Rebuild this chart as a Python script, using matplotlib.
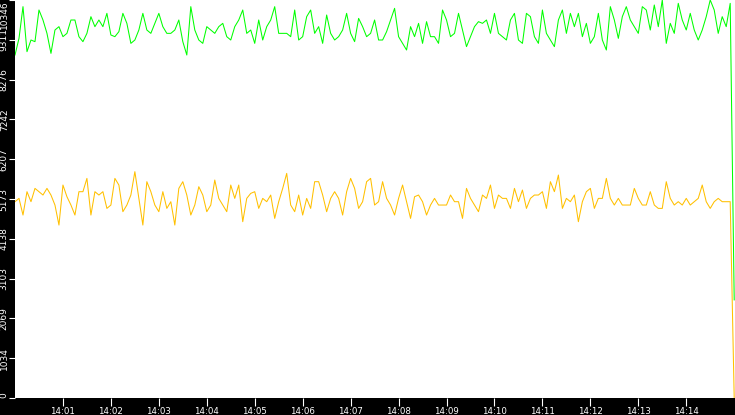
import matplotlib
matplotlib.use("Agg")
import matplotlib.pyplot as plt
import pandas as pd

# time stamps: 14:00:00 -> 14:15:00, one sample every 5 s
times = pd.date_range("2024-01-01 14:00:00", periods=181, freq="5s")

green_values = [
    8916, 9349, 10173, 9003, 9306, 9263, 10086, 9826, 9479, 8959,
    9566, 9653, 9393, 9479, 9826, 9826, 9393, 9263, 9479, 9913,
    9653, 9826, 9653, 9999, 9436, 9393, 9523, 9999, 9739, 9219,
    9306, 9566, 9999, 9566, 9479, 9739, 9999, 9653, 9479, 9479,
    9566, 9826, 9263, 8916, 10173, 9566, 9306, 9219, 9653, 9566,
    9479, 9653, 9739, 9393, 9306, 9653, 9826, 10086, 9479, 9566,
    9219, 9826,
    9306, 9653, 9826, 10173, 9479, 9479, 9479, 9393, 10086, 9306,
    9393, 9913, 10086, 9479, 9653, 9219, 9956, 9479, 9306, 9393,
    9566, 9999, 9479, 9263, 9869, 9653, 9393, 9479, 9826, 9306,
    9306, 9523, 9826, 10129, 9393, 9219, 9046, 9653, 9393, 9739,
    9219, 9783, 9393, 9393, 9219, 10086, 9826, 9393, 9479, 9999,
    9566, 9133, 9393, 9653, 9783, 9739, 9826, 9479, 9999, 9479,
    9393, 9306, 9826, 9999, 9306, 9219, 9999, 9913, 9393, 9219,
    10086, 9479, 9306, 9133, 9826, 10086, 9479, 9999, 9653, 9999,
    9393, 9739, 9219, 9393, 9999, 9306, 9046, 10173, 9826, 9349,
    9913, 10173, 9826, 9653, 9479, 10173, 10086, 9566, 10216, 9653,
    10346, 9219, 9739, 9479, 10259, 9826, 9566, 9999, 9566, 9306,
    9566, 9913, 10346, 10086, 9479, 9913, 9653, 10259,
    2550,
]

yellow_values = [
    5103, 5189, 4756, 5363, 5103, 5449, 5363, 5276, 5449, 5276,
    5016, 4496, 5536, 5232, 5016, 4756, 5363, 5363, 5709, 4756,
    5363, 5276, 5363, 4929, 5016, 5709, 5536, 4843, 5016, 5276,
    5883, 5189, 4496, 5623, 5363, 5016, 4843, 5363, 4929, 5103,
    4496, 5449, 5623, 5276, 4756, 5016, 5493, 5276, 4843, 5016,
    5666, 5189, 5016, 4843, 5536, 5189, 5536, 4583, 5189, 5319,
    5363, 4929,
    5189, 5103, 5276, 4669, 5103, 5449, 5839, 5016, 4843, 5276,
    4756, 5189, 4929, 5623, 5623, 5276, 4843, 5189, 5363, 5189,
    4756, 5363, 5709, 5449, 4929, 5103, 5623, 5709, 5016, 5103,
    5623, 5189, 5016, 4756, 5189, 5536, 5103, 4669, 5232, 5276,
    5103, 4756, 5016, 5189, 5016, 5016, 5016, 5276, 5103, 5103,
    4669, 5449, 5189, 5016, 4843, 5276, 5189, 5536, 4929, 5276,
    5189, 5189, 4929, 5449, 5103, 5406, 4929, 5189, 5276, 5276,
    5363, 4929, 5623, 5363, 5796, 4929, 5189, 5103, 5276, 4583,
    5103, 5363, 5449, 4929, 5189, 5189, 5709, 5189, 5016, 5189,
    5016, 5016, 5016, 5449, 5189, 5016, 5016, 5363, 5016, 4929,
    4929, 5623, 5189, 5016, 5103, 5016, 5189, 5016, 5103, 5189,
    5536, 5103, 4929, 5103, 5189, 5103, 5103, 5103,
    0,
]

y_max = 10346
y_tick_values = [0, 1034.6, 2069.2, 3103.8, 4138.4, 5173, 6207.6, 7242.2, 8276.8, 9311.4, 10346]
y_tick_labels = ["0", "1034", "2069", "3103", "4138", "5173", "6207", "7242", "8276", "9311", "10346"]
x_tick_times = pd.date_range("2024-01-01 14:01:00", periods=14, freq="1min")
x_tick_labels = [t.strftime("%H:%M") for t in x_tick_times]

W, H = 735, 415
fig = plt.figure(figsize=(W / 100, H / 100), dpi=100, facecolor="black")
ax = fig.add_axes([15 / W, 17 / H, 720 / W, 398 / H])
ax.set_facecolor("white")

ax.plot(times, yellow_values, color="#ffc000", lw=0.75)
ax.plot(times, green_values, color="#00ff00", lw=0.75)

ax.set_xlim(times[0], times[-1] + pd.Timedelta(seconds=1))
ax.set_ylim(0, y_max)

for s in ax.spines.values():
    s.set_visible(False)

ax.set_xticks(x_tick_times)
ax.set_xticklabels(x_tick_labels)
ax.set_yticks(y_tick_values)
ax.set_yticklabels(y_tick_labels, rotation=90, va="center")
ax.tick_params(axis="x", colors="white", length=6, width=0.8, pad=0.5, labelsize=6.2)
ax.tick_params(axis="y", colors="white", length=4, width=0.8, pad=0.5, labelsize=6.5)

ylabels = ax.get_yticklabels()
ylabels[0].set_va("bottom")
ylabels[-1].set_va("top")

fig.savefig("out.png", dpi=100, facecolor="black")
